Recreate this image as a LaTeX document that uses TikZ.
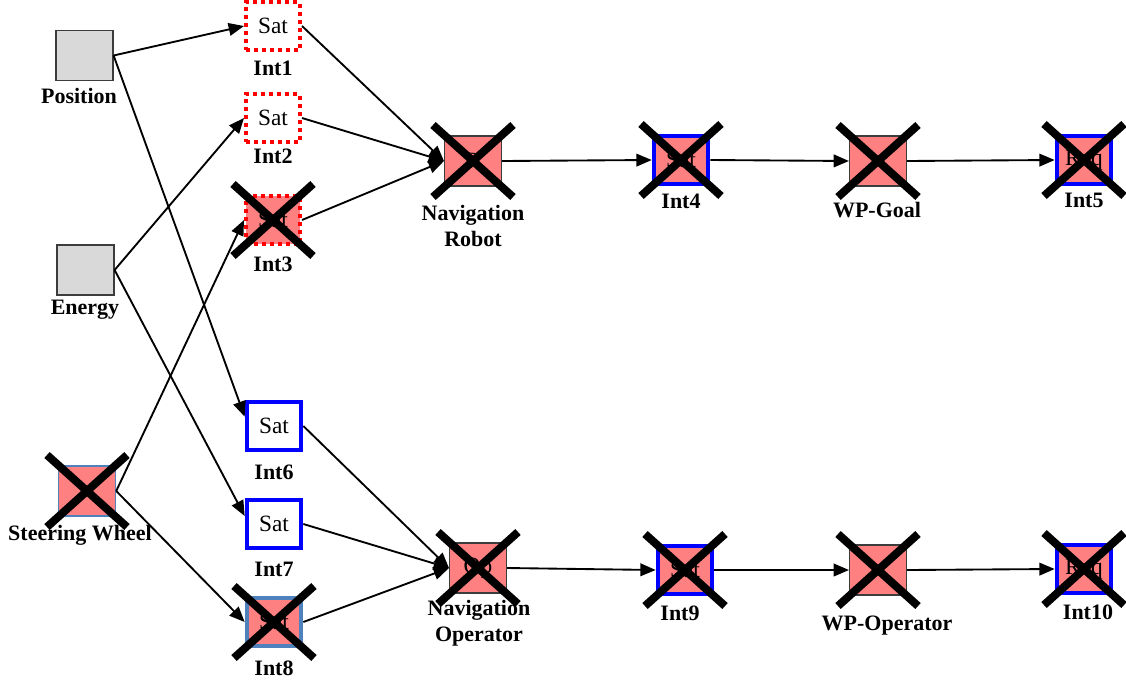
\documentclass[tikz,border=0pt]{standalone}
\usepackage{fontspec}
\setmainfont{Liberation Serif}
\usetikzlibrary{arrows.meta,calc}
\definecolor{boxgray}{RGB}{217,217,217}
\definecolor{edgegray}{RGB}{60,60,60}
\definecolor{failpink}{RGB}{255,128,128}
\definecolor{steel}{RGB}{79,129,189}
\begin{document}
\begin{tikzpicture}[x=0.75pt,y=-0.75pt,
  every node/.style={inner sep=0pt},
  base/.style={minimum width=42.75pt, minimum height=37.5pt, font=\fontsize{17.5}{19}\selectfont},
  srcbox/.style={base, fill=boxgray, draw=edgegray, line width=0.9pt},
  thinbox/.style={base, fill=failpink, draw=edgegray, line width=0.8pt},
  steerbox/.style={base, fill=failpink, draw=steel, line width=1.1pt},
  redsat/.style={base, minimum width=40.5pt, minimum height=35.5pt, fill=white, draw=red, line width=3pt, dash pattern=on 3pt off 3pt},
  bluesat/.style={base, minimum width=41pt, minimum height=36pt, fill=white, draw=blue, line width=3pt},
  steelsat/.style={base, minimum width=41pt, minimum height=36pt, fill=failpink, draw=steel, line width=3pt},
  failed/.style={fill=failpink},
  lbl/.style={font=\bfseries\fontsize{16.5}{19.5}\selectfont, align=center},
  link/.style={-{Triangle[length=11.5pt,width=9.5pt]}, line width=1.4pt},
  crossline/.style={line width=6pt}
]
\useasboundingbox (0,0) rectangle (1126,682);

% source components
\node[srcbox] (pos) at (84.5,55.5) {};
\node[srcbox] (energy) at (85.5,270) {};
\node[steerbox] (steer) at (87,491) {};
\node[lbl] (posl) at (79,96) {Position};
\node[lbl] (energyl) at (85,310) {Energy};
\node[lbl] (steerl) at (80,535) {Steering Wheel};

% interfaces, first column
\node[redsat] (int1) at (273,26) {Sat};
\node[redsat] (int2) at (273,118) {Sat};
\node[redsat, failed] (int3) at (273,220) {Sat};
\node[bluesat] (int6) at (274,426) {Sat};
\node[bluesat] (int7) at (274,524) {Sat};
\node[steelsat] (int8) at (274,622) {Sat};
\node[lbl] (int1l) at (273,68) {Int1};
\node[lbl] (int2l) at (273,156) {Int2};
\node[lbl] (int3l) at (273,264) {Int3};
\node[lbl] (int6l) at (274,472) {Int6};
\node[lbl] (int7l) at (274,569) {Int7};
\node[lbl] (int8l) at (274,668) {Int8};

% navigation chain, robot
\node[thinbox] (navr) at (473,161) {R};
\node[bluesat, failed] (int4) at (681,160) {Sat};
\node[thinbox] (wpg) at (878,161) {};
\node[bluesat, failed] (int5) at (1084,160) {Req};
\node[lbl] (navrl) at (473,226) {Navigation\\Robot};
\node[lbl] (int4l) at (681,201) {Int4};
\node[lbl] (wpgl) at (877,210) {WP-Goal};
\node[lbl] (int5l) at (1084,200) {Int5};

% navigation chain, operator
\node[thinbox] (navo) at (478,568) {Op};
\node[bluesat, failed] (int9) at (685,570) {Sat};
\node[thinbox] (wpo) at (878,570) {};
\node[bluesat, failed] (int10) at (1084,569) {Req};
\node[lbl] (navol) at (479,623) {Navigation\\Operator};
\node[lbl] (int9l) at (680,613) {Int9};
\node[lbl] (wpol) at (887,626) {WP-Operator};
\node[lbl] (int10l) at (1088,612) {Int10};

% connections
\draw[link] (pos.east) -- (int1.west);
\draw[link] (pos.east) -- ([yshift=7pt]int6.west);
\draw[link] (energy.east) -- (int2.west);
\draw[link] (energy.east) -- ([yshift=6pt]int7.west);
\draw[link] (steer.east) -- (int3.west);
\draw[link] (steer.east) -- (int8.west);
\draw[link] (int1.east) -- (navr.west);
\draw[link] (int2.east) -- (navr.west);
\draw[link] (int3.east) -- (navr.west);
\draw[link] (navr.east) -- (int4.west);
\draw[link] (int4.east) -- (wpg.west);
\draw[link] (wpg.east) -- (int5.west);
\draw[link] (int6.east) -- (navo.west);
\draw[link] (int7.east) -- (navo.west);
\draw[link] (int8.east) -- (navo.west);
\draw[link] (navo.east) -- (int9.west);
\draw[link] (int9.east) -- (wpo.west);
\draw[link] (wpo.east) -- (int10.west);

% failure crosses
\foreach \n in {steer,int3,int8,navr,int4,wpg,int5,navo,int9,wpo,int10}
  \draw[crossline] ($(\n)+(-40,-36)$) -- ($(\n)+(40,36)$)
                   ($(\n)+(-40,36)$) -- ($(\n)+(40,-36)$);
\end{tikzpicture}
\end{document}
